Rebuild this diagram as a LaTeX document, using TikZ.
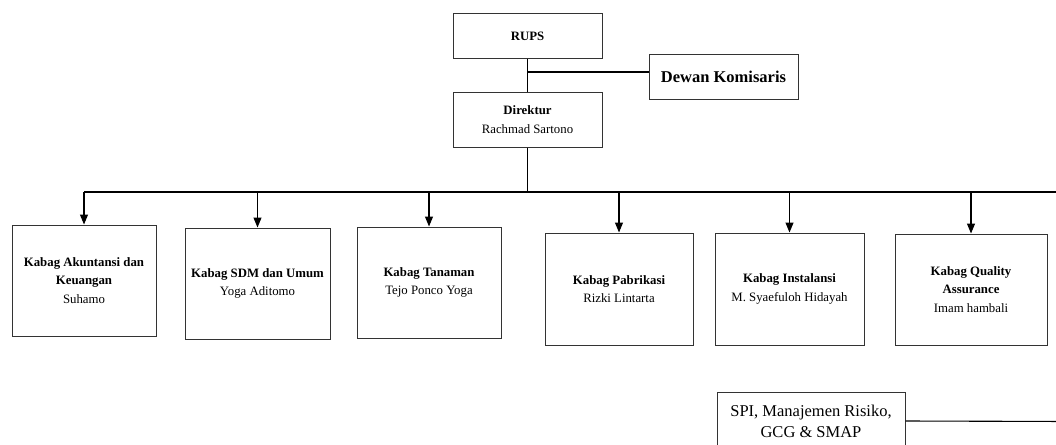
\documentclass[tikz,border=0pt]{standalone}
\usepackage{fontspec}
\setmainfont{Liberation Serif}
\usetikzlibrary{arrows.meta}
\begin{document}
\begin{tikzpicture}[x=1pt,y=-1pt,
 box/.style={draw=black!80, line width=1pt, align=center, inner sep=2pt,
   font=\fontsize{12.8}{18.5}\selectfont},
 bigbox/.style={box, font=\fontsize{16.5}{21}\selectfont},
 conn/.style={line width=1.1pt, black},
 arr/.style={conn, -{Triangle[length=10pt,width=8pt]}}]
\fill[white] (0,0) rectangle (1056,444);
\clip (0,0) rectangle (1056,444);
% top
\node[box, minimum width=149pt, minimum height=44pt] (rups) at (527.5,36) {\textbf{RUPS}};
\node[bigbox, minimum width=149pt, minimum height=44pt] (dewan) at (723.5,77) {\textbf{Dewan Komisaris}};
\node[box, minimum width=149pt, minimum height=55pt] (dir) at (527.5,119.5) {\textbf{Direktur}\\Rachmad Sartono};
% departments
\node[box, minimum width=144pt, minimum height=111pt] (b1) at (84,280.5) {\textbf{Kabag Akuntansi dan}\\\textbf{Keuangan}\\Suhamo};
\node[box, minimum width=145pt, minimum height=111pt] (b2) at (257.5,283.5) {\textbf{Kabag SDM dan Umum}\\Yoga Aditomo};
\node[box, minimum width=144pt, minimum height=111pt] (b3) at (429,282.5) {\textbf{Kabag Tanaman}\\Tejo Ponco Yoga};
\node[box, minimum width=148pt, minimum height=112pt] (b4) at (619,289) {\textbf{Kabag Pabrikasi}\\Rizki Lintarta};
\node[box, minimum width=149pt, minimum height=112pt] (b5) at (789.5,289) {\textbf{Kabag Instalansi}\\M. Syaefuloh Hidayah};
\node[box, minimum width=152pt, minimum height=111pt] (b6) at (971,289.5) {\textbf{Kabag Quality}\\\textbf{Assurance}\\Imam hambali};
\node[bigbox, minimum width=188pt, minimum height=58pt] (spi) at (811,421) {SPI, Manajemen Risiko,\\GCG \& SMAP};
% connectors
\coordinate (j) at (527.5,72);
\coordinate (bar) at (527.5,192);
\coordinate (barR) at (1070,192);
\coordinate (spiR) at (1070,421.5);
\draw[conn] (rups) -- (dir);
\draw[conn] (j) -- (j -| dewan.west);
\draw[conn] (dir) -- (bar);
\draw[conn] (b1.north |- bar) -- (barR);
\foreach \b in {b1,b2,b3,b4,b5,b6}
  \draw[arr] (\b.north |- bar) -- (\b.north);
\draw[conn] (spi.east) -- (spiR);
\end{tikzpicture}
\end{document}
